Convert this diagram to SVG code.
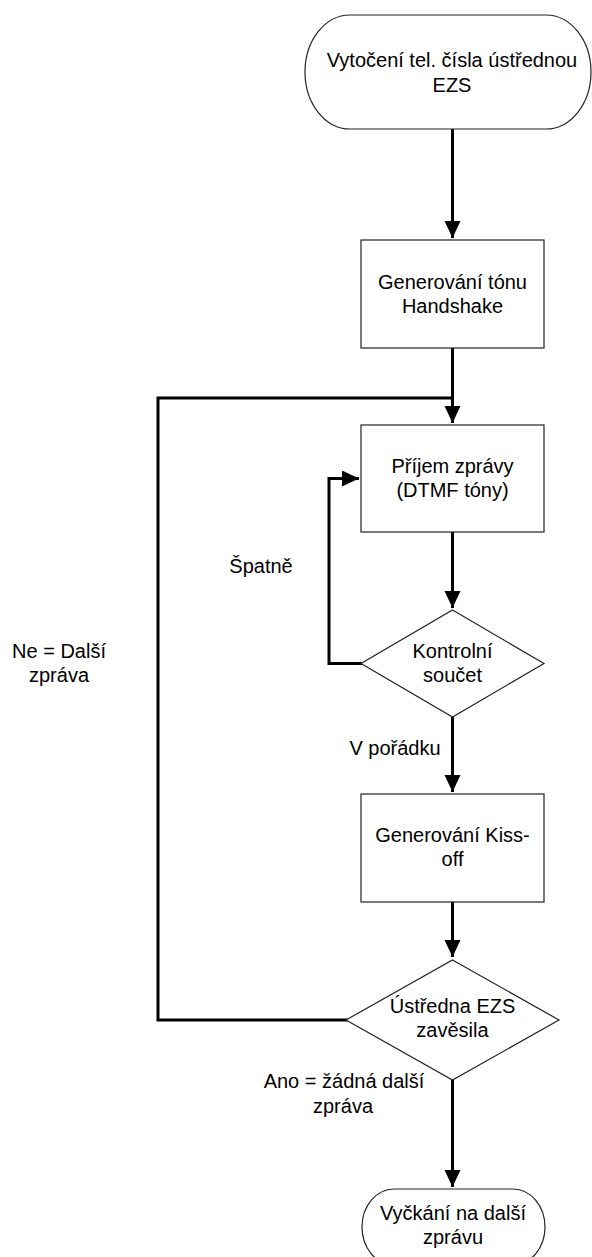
<svg xmlns="http://www.w3.org/2000/svg" width="592" height="1257" viewBox="0 0 592 1257">
<style>
.shape{fill:#fff;stroke:#222;stroke-width:1.2}
.conn{fill:none;stroke:#000;stroke-width:3}
text{font-family:"Liberation Sans",Arial,sans-serif;font-size:20px;fill:#000;text-anchor:middle}
</style>
<defs>
<marker id="ah" markerUnits="userSpaceOnUse" markerWidth="18" markerHeight="18" refX="17" refY="8" orient="auto">
<path d="M0,0 L17,8 L0,16 Z" fill="#000"/>
</marker>
</defs>
<rect width="592" height="1257" fill="#fff"/>
<g id="connectors">
<path class="conn" d="M452.5,129 V238" marker-end="url(#ah)"/>
<path class="conn" d="M452.5,348 V423" marker-end="url(#ah)"/>
<path class="conn" d="M362,1020 H158 V398 H452.5"/>
<path class="conn" d="M452.5,532 V608" marker-end="url(#ah)"/>
<path class="conn" d="M362,663.5 H329 V478.5 H359" marker-end="url(#ah)"/>
<path class="conn" d="M452.5,717 V792" marker-end="url(#ah)"/>
<path class="conn" d="M452.5,902 V957" marker-end="url(#ah)"/>
<path class="conn" d="M452.5,1080 V1187" marker-end="url(#ah)"/>
</g>
<g id="start">
<rect class="shape" x="305" y="15" width="286" height="114" rx="45" ry="57"/>
<text x="452" y="67">Vytočení tel. čísla ústřednou</text>
<text x="452" y="92">EZS</text>
</g>
<g id="handshake">
<rect class="shape" x="361" y="240" width="183" height="108"/>
<text x="452.5" y="289">Generování tónu</text>
<text x="452.5" y="313">Handshake</text>
</g>
<g id="prijem">
<rect class="shape" x="361" y="425" width="183" height="107"/>
<text x="452.5" y="473">Příjem zprávy</text>
<text x="452.5" y="497">(DTMF tóny)</text>
</g>
<g id="kontrola">
<polygon class="shape" points="452.5,610 544,663.5 452.5,717 361,663.5"/>
<text x="452.5" y="658">Kontrolní</text>
<text x="452.5" y="682">součet</text>
</g>
<g id="kissoff">
<rect class="shape" x="361" y="794" width="183" height="108"/>
<text x="452.5" y="842">Generování Kiss-</text>
<text x="452.5" y="866">off</text>
</g>
<g id="zavesila">
<polygon class="shape" points="452.5,960 559,1020 452.5,1080 346,1020"/>
<text x="452.5" y="1013">Ústředna EZS</text>
<text x="452.5" y="1037">zavěsila</text>
</g>
<g id="end">
<rect class="shape" x="362" y="1189" width="183" height="76" rx="32" ry="38"/>
<text x="453" y="1220">Vyčkání na další</text>
<text x="453" y="1244">zprávu</text>
</g>
<g id="labels">
<text x="261" y="573">Špatně</text>
<text x="59" y="658">Ne = Další</text>
<text x="59" y="682">zpráva</text>
<text x="395" y="755">V pořádku</text>
<text x="344" y="1088">Ano = žádná další</text>
<text x="343" y="1113">zpráva</text>
</g>
</svg>
